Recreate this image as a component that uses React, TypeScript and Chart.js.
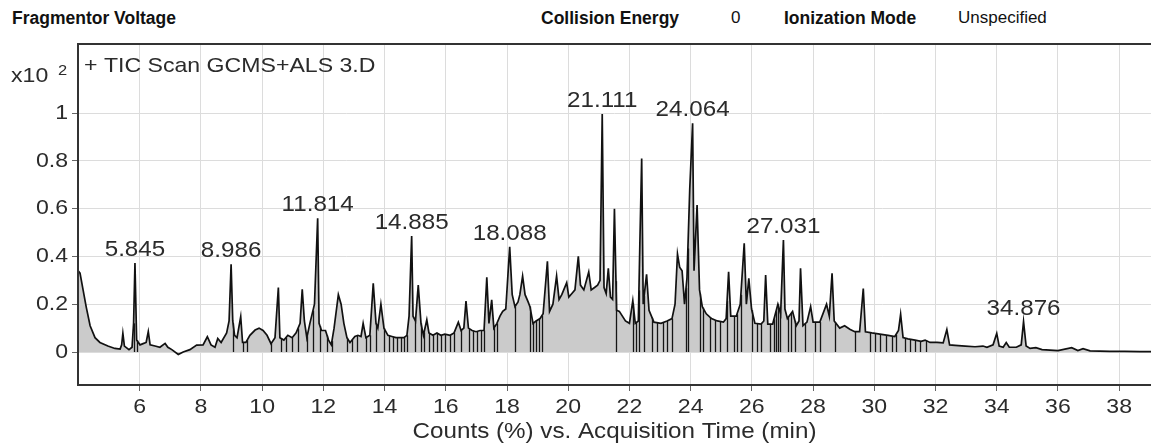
import React, { useEffect, useRef } from "react";
import { Chart, registerables } from "chart.js";

Chart.register(...registerables);

// Acquisition time (min)
const retentionTime = [
  3.99, 4.05, 4.15, 4.25, 4.38, 4.54, 4.7, 4.96, 5.19, 5.36, 5.41, 5.45, 5.5, 5.65, 5.75, 5.8, 5.845, 5.9,
  6.01, 6.11, 6.21, 6.28, 6.34, 6.5, 6.66, 6.83, 6.92, 7.05, 7.26, 7.42, 7.64, 7.86, 8.07, 8.21, 8.33, 8.46,
  8.55, 8.66, 8.84, 8.92, 8.986, 9.04, 9.1, 9.18, 9.3, 9.36, 9.47, 9.6, 9.77, 9.9, 10.03, 10.16, 10.29, 10.42,
  10.53, 10.58, 10.71, 10.84, 10.98, 11.11, 11.24, 11.31, 11.38, 11.46, 11.56, 11.71, 11.814, 11.86, 11.94,
  12.07, 12.17, 12.26, 12.35, 12.49, 12.58, 12.67, 12.77, 12.87, 13.03, 13.13, 13.23, 13.3, 13.39, 13.52,
  13.63, 13.72, 13.78, 13.88, 13.98, 14.11, 14.24, 14.37, 14.5, 14.63, 14.73, 14.8, 14.885, 14.93, 15.01,
  15.1, 15.19, 15.27, 15.38, 15.45, 15.58, 15.71, 15.84, 15.97, 16.14, 16.27, 16.41, 16.5, 16.59, 16.66,
  16.74, 16.86, 16.99, 17.12, 17.25, 17.34, 17.41, 17.5, 17.57, 17.67, 17.77, 17.86, 17.96, 18.088, 18.17,
  18.26, 18.36, 18.42, 18.51, 18.59, 18.69, 18.75, 18.85, 18.95, 19.08, 19.18, 19.32, 19.39, 19.5, 19.62,
  19.7, 19.79, 19.95, 20.02, 20.12, 20.22, 20.33, 20.4, 20.51, 20.67, 20.75, 20.86, 20.96, 21.04, 21.111,
  21.17, 21.24, 21.31, 21.38, 21.45, 21.51, 21.58, 21.67, 21.87, 22.0, 22.11, 22.19, 22.29, 22.34, 22.4,
  22.45, 22.56, 22.64, 22.8, 23.03, 23.23, 23.39, 23.49, 23.57, 23.64, 23.72, 23.8, 23.88, 23.97, 24.064,
  24.11, 24.21, 24.29, 24.38, 24.51, 24.68, 24.87, 25.07, 25.16, 25.24, 25.31, 25.49, 25.62, 25.75, 25.82,
  25.9, 25.99, 26.1, 26.3, 26.39, 26.45, 26.52, 26.68, 26.85, 26.94, 27.031, 27.08, 27.16, 27.33, 27.45,
  27.54, 27.59, 27.67, 27.8, 27.92, 28.0, 28.22, 28.44, 28.53, 28.62, 28.69, 28.87, 29.03, 29.2, 29.36,
  29.52, 29.64, 29.71, 29.92, 30.18, 30.45, 30.67, 30.79, 30.86, 30.94, 31.1, 31.33, 31.53, 31.66, 31.82,
  32.05, 32.25, 32.37, 32.46, 32.64, 32.97, 33.29, 33.55, 33.68, 33.88, 34.0, 34.08, 34.21, 34.31, 34.41,
  34.64, 34.8, 34.876, 34.96, 35.09, 35.28, 35.48, 35.74, 36.0, 36.45, 36.65, 36.82, 37.05, 37.37, 37.7,
  38.19, 38.68, 39.04,
];

// Counts (%) x10^2
const abundance = [
  0.34, 0.33, 0.26, 0.19, 0.11, 0.06, 0.04, 0.025, 0.015, 0.012, 0.03, 0.078, 0.025, 0.01, 0.02, 0.12, 0.372, 0.05,
  0.03, 0.035, 0.04, 0.085, 0.03, 0.025, 0.02, 0.036, 0.02, 0.01, -0.01, 0.0, 0.01, 0.029, 0.03, 0.064, 0.03, 0.02,
  0.057, 0.04, 0.08, 0.13, 0.367, 0.13, 0.07, 0.06, 0.148, 0.04, 0.04, 0.07, 0.092, 0.1, 0.09, 0.07, 0.035, 0.06,
  0.27, 0.06, 0.05, 0.07, 0.06, 0.08, 0.12, 0.262, 0.13, 0.06, 0.12, 0.2, 0.56, 0.12, 0.09,
  0.09, 0.05, 0.03, 0.1, 0.24, 0.2, 0.12, 0.06, 0.04, 0.065, 0.07, 0.065, 0.12, 0.06, 0.07,
  0.288, 0.12, 0.1, 0.2, 0.1, 0.07, 0.065, 0.06, 0.06, 0.06, 0.07, 0.15, 0.485, 0.15, 0.13,
  0.28, 0.12, 0.07, 0.135, 0.08, 0.07, 0.08, 0.07, 0.075, 0.07, 0.08, 0.125, 0.09, 0.1, 0.213,
  0.1, 0.09, 0.085, 0.09, 0.09, 0.313, 0.12, 0.218, 0.1, 0.12, 0.15, 0.17, 0.18, 0.44, 0.24,
  0.19, 0.21, 0.24, 0.318, 0.24, 0.21, 0.19, 0.12, 0.13, 0.14, 0.16, 0.38, 0.17, 0.2, 0.318,
  0.22, 0.24, 0.29, 0.23, 0.245, 0.26, 0.4, 0.28, 0.26, 0.335, 0.26, 0.27, 0.28, 0.3, 0.996,
  0.27, 0.245, 0.35, 0.23, 0.22, 0.6, 0.175, 0.17, 0.13, 0.12, 0.215, 0.12, 0.13, 0.45, 0.81,
  0.2, 0.325, 0.175, 0.125, 0.12, 0.13, 0.14, 0.2, 0.41, 0.355, 0.34, 0.2, 0.31, 0.68, 0.957,
  0.34, 0.615, 0.26, 0.19, 0.16, 0.14, 0.13, 0.125, 0.14, 0.336, 0.15, 0.15, 0.2, 0.455, 0.2,
  0.308, 0.18, 0.12, 0.117, 0.13, 0.322, 0.117, 0.117, 0.2, 0.16, 0.469, 0.18, 0.14, 0.17, 0.11,
  0.13, 0.35, 0.11, 0.125, 0.19, 0.125, 0.125, 0.2, 0.15, 0.329, 0.13, 0.1, 0.11, 0.095, 0.085,
  0.085, 0.266, 0.085, 0.08, 0.075, 0.07, 0.065, 0.09, 0.158, 0.06, 0.055, 0.05, 0.045, 0.05, 0.04,
  0.04, 0.038, 0.094, 0.03, 0.028, 0.025, 0.022, 0.025, 0.02, 0.03, 0.078, 0.025, 0.02, 0.04, 0.02,
  0.02, 0.03, 0.127, 0.025, 0.015, 0.018, 0.01, 0.008, 0.006, 0.018, 0.006, 0.014, 0.005, 0.004, 0.003,
  0.003, 0.002, 0.002,
];

// Labelled peak apexes (min)
const labelledPeaks = [5.845, 8.986, 11.814, 14.885, 18.088, 21.111, 24.064, 27.031, 34.876];

// Integration boundaries (drop lines to baseline)
const dropLineTimes = [
  5.8, 5.9, 9.05, 9.37, 9.51, 10.29, 10.62, 10.78, 10.98, 11.17, 11.47, 11.66, 11.89, 12.12, 12.28, 12.77,
  12.94, 13.1, 13.39, 13.52, 13.72, 13.98, 14.14, 14.28, 14.41, 14.54, 14.63, 14.73, 14.99, 15.19, 15.29,
  15.45, 15.58, 15.71, 15.84, 15.97, 16.14, 16.27, 16.5, 16.76, 16.89, 17.02, 17.15, 17.25, 17.57, 17.67,
  18.26, 18.75, 18.85, 18.95, 19.05, 19.14, 21.56, 22.12, 22.21, 22.31, 22.48, 22.74, 22.9, 23.1, 23.23,
  23.39, 23.85, 23.91, 24.31, 24.4, 24.63, 24.8, 24.96, 25.19, 25.42, 25.51, 25.64, 26.0, 26.17, 26.3,
  26.59, 26.72, 26.79, 26.85, 26.92, 27.18, 27.28, 27.41, 27.74, 28.06, 28.22, 28.72, 29.37, 29.86, 30.02,
  30.18, 30.38, 30.57, 30.7, 31.0, 31.17, 31.33, 31.49, 31.68,
];

const xTickValues = [6, 8, 10, 12, 14, 16, 18, 20, 22, 24, 26, 28, 30, 32, 34, 36, 38];
const yTickValues = [0, 0.2, 0.4, 0.6, 0.8, 1];
const yTickLabels = ["0", "0.2", "0.4", "0.6", "0.8", "1"];

const xAxisTitle = "Counts (%) vs. Acquisition Time (min)";
const traceTitle = "+ TIC Scan GCMS+ALS 3.D";
const yScaleFactor = ["x10", "2"];

const headerTexts = [
  { text: "Fragmentor Voltage", bold: true, left: 12 },
  { text: "Collision Energy", bold: true, left: 541 },
  { text: "0", bold: false, left: 731 },
  { text: "Ionization Mode", bold: true, left: 784 },
  { text: "Unspecified", bold: false, left: 958 },
];

function valueAt(t: number): number {
  for (let i = 0; i < retentionTime.length - 1; i++) {
    const a = retentionTime[i];
    const b = retentionTime[i + 1];
    if (t >= a && t <= b) {
      const f = (t - a) / (b - a);
      return abundance[i] + f * (abundance[i + 1] - abundance[i]);
    }
  }
  return 0;
}

export default function App() {
  const ref = useRef<HTMLCanvasElement>(null);

  useEffect(() => {
    const canvas = ref.current;
    if (!canvas) return;
    const SX = 1.1;
    const font = (size: number) => `${size}px "Liberation Sans", Arial, sans-serif`;
    const drawText = (
      c: CanvasRenderingContext2D,
      text: string,
      x: number,
      y: number,
      size: number,
      align: CanvasTextAlign,
      baseline: CanvasTextBaseline,
      color: string
    ) => {
      c.save();
      c.translate(x, y);
      c.scale(SX, 1);
      c.font = font(size);
      c.fillStyle = color;
      c.textAlign = align;
      c.textBaseline = baseline;
      c.fillText(text, 0, 0);
      c.restore();
    };

    const overlay = {
      id: "overlay",
      afterDatasetsDraw(chart: any) {
        const c: CanvasRenderingContext2D = chart.ctx;
        const xs = chart.scales.x;
        const ys = chart.scales.y;
        const area = chart.chartArea;
        c.save();
        c.beginPath();
        c.rect(area.left, area.top, area.right - area.left, area.bottom - area.top);
        c.clip();
        c.strokeStyle = "#151515";
        c.lineWidth = 1.3;
        const y0 = ys.getPixelForValue(0);
        dropLineTimes.forEach((t) => {
          const x = Math.round(xs.getPixelForValue(t)) + 0.5;
          const y1 = ys.getPixelForValue(valueAt(t));
          c.beginPath();
          c.moveTo(x, y0);
          c.lineTo(x, y1);
          c.stroke();
        });
        c.restore();
      },
      afterDraw(chart: any) {
        const c: CanvasRenderingContext2D = chart.ctx;
        const xs = chart.scales.x;
        const ys = chart.scales.y;
        const area = chart.chartArea;
        // frame
        c.save();
        c.strokeStyle = "#333";
        c.lineWidth = 2;
        c.strokeRect(area.left, area.top, area.right - area.left + 2, area.bottom - area.top);
        c.restore();

        const textColor = "#2b2b2b";
        yTickValues.forEach((v, i) => {
          drawText(c, yTickLabels[i], area.left - 10, ys.getPixelForValue(v), 21, "right", "middle", textColor);
        });
        xTickValues.forEach((v) => {
          drawText(c, String(v), xs.getPixelForValue(v), area.bottom + 22, 21, "center", "middle", textColor);
        });
        drawText(c, xAxisTitle, (area.left + area.right) / 2, area.bottom + 47, 22, "center", "middle", textColor);
        drawText(c, yScaleFactor[0], 11, 76, 21, "left", "middle", textColor);
        drawText(c, yScaleFactor[1], 58, 71, 15, "left", "middle", textColor);
        drawText(c, traceTitle, area.left + 6, area.top + 22, 21, "left", "middle", textColor);

        labelledPeaks.forEach((t) => {
          const x = xs.getPixelForValue(t);
          const y = ys.getPixelForValue(valueAt(t));
          drawText(c, t.toFixed(3), x, y - 7, 22, "center", "alphabetic", textColor);
        });
      },
    };

    const chart = new Chart(canvas, {
      type: "line",
      data: {
        datasets: [
          {
            data: retentionTime.map((t, i) => ({ x: t, y: abundance[i] })),
            borderColor: "#111",
            borderWidth: 1.7,
            backgroundColor: "#cbcbcb",
            fill: "origin",
            pointRadius: 0,
            tension: 0,
          },
        ],
      },
      options: {
        animation: false,
        responsive: false,
        devicePixelRatio: 1,
        events: [],
        layout: { padding: { top: 44, left: 0, right: 0, bottom: 0 } },
        plugins: { legend: { display: false }, tooltip: { enabled: false } },
        scales: {
          x: {
            type: "linear",
            min: 3.984,
            max: 39.04,
            afterBuildTicks: (s: any) => {
              s.ticks = xTickValues.map((v) => ({ value: v }));
            },
            afterFit: (s: any) => {
              s.height = 60;
            },
            ticks: { display: false },
            grid: { color: "#dcdcdc", lineWidth: 1, drawTicks: true, tickLength: 6, tickColor: "#666" },
            border: { display: false },
          },
          y: {
            type: "linear",
            min: -0.138,
            max: 1.289,
            afterBuildTicks: (s: any) => {
              s.ticks = yTickValues.map((v) => ({ value: v }));
            },
            afterFit: (s: any) => {
              s.width = 78;
            },
            ticks: { display: false },
            grid: { color: "#dcdcdc", lineWidth: 1, drawTicks: true, tickLength: 6, tickColor: "#666" },
            border: { display: false },
          },
        },
      } as any,
      plugins: [overlay],
    });
    return () => chart.destroy();
  }, []);

  return (
    <div style={{ position: "fixed", left: 0, top: 0, width: 1151, height: 445, background: "#fff", overflow: "hidden" }}>
      {headerTexts.map((h, i) => (
        <span
          key={i}
          style={{
            position: "absolute",
            left: h.left,
            top: 8,
            fontFamily: '"Liberation Sans", Arial, sans-serif',
            fontSize: h.bold ? 17.5 : 17,
            fontWeight: h.bold ? 700 : 400,
            color: "#111",
            lineHeight: "20px",
            whiteSpace: "nowrap",
          }}
        >
          {h.text}
        </span>
      ))}
      <canvas ref={ref} width={1151} height={445} style={{ position: "absolute", left: 0, top: 0 }} />
    </div>
  );
}
